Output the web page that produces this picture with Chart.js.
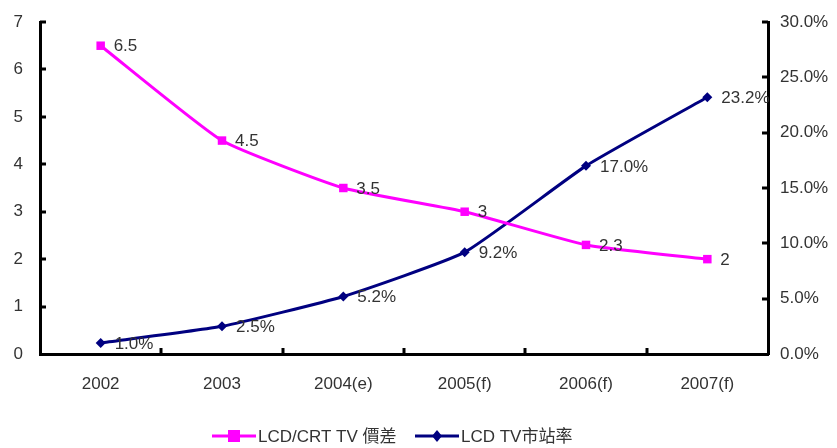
<!DOCTYPE html>
<html>
<head>
<meta charset="utf-8">
<script src="https://cdn.jsdelivr.net/npm/chart.js@4/dist/chart.umd.min.js"></script>
<style>
    html, body { margin: 0; padding: 0; background: #ffffff; }
    #wrap { width: 837px; height: 448px; }
</style>
</head>
<body>
<div id="wrap"><canvas id="tvChart" width="837" height="448"></canvas></div>
<script>
const years = ['2002', '2003', '2004(e)', '2005(f)', '2006(f)', '2007(f)'];
const priceGap = [6.5, 4.5, 3.5, 3, 2.3, 2];            // LCD/CRT TV 價差
const lcdShare = [1.0, 2.5, 5.2, 9.2, 17.0, 23.2];      // LCD TV 市站率 (%)
const gapLabels = ['6.5', '4.5', '3.5', '3', '2.3', '2'];
const shareLabels = ['1.0%', '2.5%', '5.2%', '9.2%', '17.0%', '23.2%'];

const pink = '#ff00ff';
const navy = '#000080';
const textColor = '#333333';
const fontFamily = '"Liberation Sans", Arial, sans-serif';

// vertical axes: fixed width, and keep tick padding from pushing the plot down
function fixVertical(width) {
    return scale => {
        scale.width = width;
        scale.paddingTop = 10;
        scale.paddingBottom = 10;
    };
}

// short tick marks pointing into the plot, data labels and the legend row
const decorations = {
    id: 'decorations',
    afterDatasetsDraw(chart) {
        const ctx = chart.ctx;
        const area = chart.chartArea;
        const x = chart.scales.x;
        const y = chart.scales.y;
        const y1 = chart.scales.y1;
        const tick = 6;

        ctx.save();
        ctx.strokeStyle = '#000000';
        ctx.lineWidth = 3;
        ctx.beginPath();
        for (let v = 1; v <= 7; v++) {
            const py = Math.round(y.getPixelForValue(v));
            ctx.moveTo(area.left, py);
            ctx.lineTo(area.left + tick, py);
        }
        for (let v = 5; v <= 30; v += 5) {
            const py = Math.round(y1.getPixelForValue(v));
            ctx.moveTo(area.right, py);
            ctx.lineTo(area.right - tick, py);
        }
        for (let i = 1; i < years.length; i++) {
            const px = Math.round((x.getPixelForValue(i - 1) + x.getPixelForValue(i)) / 2);
            ctx.moveTo(px, area.bottom);
            ctx.lineTo(px, area.bottom - tick);
        }
        ctx.stroke();

        // value labels to the right of each point
        ctx.font = '17px ' + fontFamily;
        ctx.fillStyle = textColor;
        ctx.textAlign = 'left';
        ctx.textBaseline = 'middle';
        chart.getDatasetMeta(0).data.forEach((pt, i) => {
            ctx.fillText(gapLabels[i], pt.x + 13, pt.y + 1);
        });
        chart.getDatasetMeta(1).data.forEach((pt, i) => {
            ctx.fillText(shareLabels[i], pt.x + 14, pt.y + 1);
        });

        // legend
        const ly = 436;
        const items = [
            { x: 212, color: pink, style: 'rect', text: 'LCD/CRT TV 價差' },
            { x: 415, color: navy, style: 'rectRot', text: 'LCD TV市站率' }
        ];
        items.forEach(item => {
            ctx.strokeStyle = item.color;
            ctx.fillStyle = item.color;
            ctx.lineWidth = 3;
            ctx.beginPath();
            ctx.moveTo(item.x, ly);
            ctx.lineTo(item.x + 44, ly);
            ctx.stroke();
            const cx = item.x + 22;
            if (item.style === 'rect') {
                ctx.fillRect(cx - 6, ly - 6, 12, 12);
            } else {
                ctx.beginPath();
                ctx.moveTo(cx, ly - 6);
                ctx.lineTo(cx + 5, ly);
                ctx.lineTo(cx, ly + 6);
                ctx.lineTo(cx - 5, ly);
                ctx.closePath();
                ctx.fill();
            }
            ctx.fillStyle = textColor;
            ctx.font = '17px ' + fontFamily + ', "Noto Sans CJK TC"';
            ctx.fillText(item.text, item.x + 46, ly + 1);
        });
        ctx.restore();
    }
};

const ctx = document.getElementById('tvChart').getContext('2d');
new Chart(ctx, {
    type: 'line',
    data: {
        labels: years,
        datasets: [{
            label: 'LCD/CRT TV 價差',
            data: priceGap,
            borderColor: pink,
            backgroundColor: pink,
            borderWidth: 3,
            pointStyle: 'rect',
            pointRadius: 6,
            pointBorderWidth: 0,
            tension: 0.15,
            yAxisID: 'y'
        }, {
            label: 'LCD TV市站率',
            data: lcdShare,
            borderColor: navy,
            backgroundColor: navy,
            borderWidth: 3,
            pointStyle: 'rectRot',
            pointRadius: 5,
            pointBorderWidth: 0,
            tension: 0.15,
            yAxisID: 'y1'
        }]
    },
    options: {
        responsive: false,
        animation: false,
        layout: { padding: { top: 22, left: 0, right: 0, bottom: 0 } },
        scales: {
            x: {
                offset: true,
                grid: { display: false, drawTicks: false },
                border: { display: true, color: '#000000', width: 3 },
                ticks: {
                    color: textColor,
                    padding: 20,
                    font: { family: fontFamily, size: 17 },
                    maxRotation: 0
                },
                afterFit: scale => { scale.height = 94; }
            },
            y: {
                position: 'left',
                min: 0,
                max: 7,
                grid: { display: false, drawTicks: false },
                border: { display: true, color: '#000000', width: 3 },
                ticks: {
                    stepSize: 1,
                    color: textColor,
                    padding: 17,
                    font: { family: fontFamily, size: 17 }
                },
                afterFit: fixVertical(40)
            },
            y1: {
                position: 'right',
                min: 0,
                max: 30,
                grid: { display: false, drawTicks: false },
                border: { display: true, color: '#000000', width: 3 },
                ticks: {
                    stepSize: 5,
                    color: textColor,
                    padding: 12,
                    font: { family: fontFamily, size: 17 },
                    callback: v => v.toFixed(1) + '%'
                },
                afterFit: fixVertical(69)
            }
        },
        plugins: {
            legend: { display: false },
            tooltip: { enabled: false }
        }
    },
    plugins: [decorations]
});
</script>
</body>
</html>
